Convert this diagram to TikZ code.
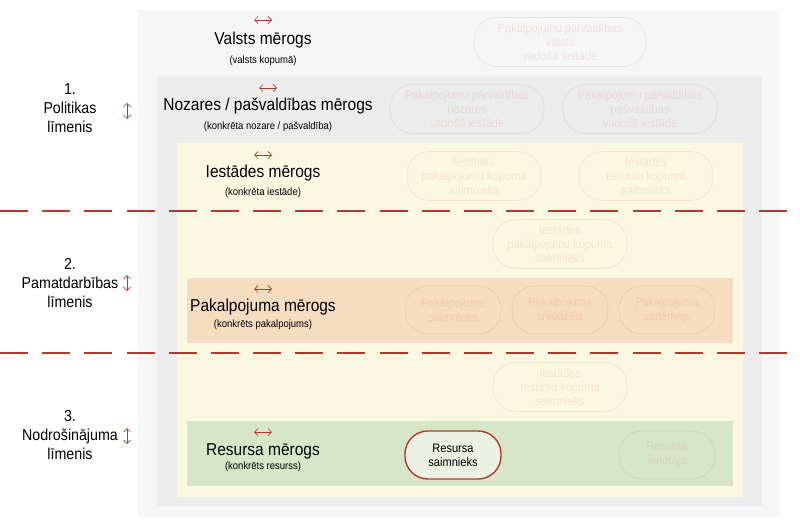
\documentclass[tikz,border=0pt]{standalone}
\usepackage{fontspec}
\setmainfont{Liberation Sans}[FakeStretch=0.9]
\usetikzlibrary{arrows.meta}
\definecolor{redline}{HTML}{B03A2E}
\definecolor{panelA}{HTML}{F6F6F6}
\definecolor{panelB}{HTML}{ECECEC}
\definecolor{panelC}{HTML}{FBF8E1}
\definecolor{bandP}{HTML}{F6DCC0}
\definecolor{bandR}{HTML}{D8E6C8}
\tikzset{
  title/.style={font=\fontsize{9.8}{11}\selectfont},
  sub/.style={font=\fontsize{6}{7}\selectfont},
  level/.style={align=center,font=\fontsize{9}{11}\selectfont},
  role/.style={draw=redline,rounded corners=13pt,minimum height=48*0.02cm,
    align=center,font=\fontsize{7}{8}\selectfont},
  ghost/.style={role,draw opacity=0.1,text opacity=0.1,text=redline},
  harrow/.style={{Straight Barb[length=2pt]}-{Straight Barb[length=2pt]},redline,thin},
}
\begin{document}
\begin{tikzpicture}[x=0.02cm,y=-0.02cm]
  \useasboundingbox (0,0) rectangle (800,527);
  % paneli
  \fill[panelA] (138,10) rectangle (780,517);
  \fill[panelB] (157,76) rectangle (762,506);
  \fill[panelC] (177,143) rectangle (743,497);
  \fill[bandP] (187,278) rectangle (733,343);
  \fill[bandR] (187,421) rectangle (733,486);
  % līmeņu robežas
  \draw[redline,thick,dash pattern=on 16pt off 8pt] (0,211) -- (812,211);
  \draw[redline,thick,dash pattern=on 16pt off 8pt] (0,353) -- (812,353);
  % līmeņi
  \node[level] (lvlA) at (70,108) {1.\\Politikas\\līmenis};
  \node[level] (lvlB) at (70,283) {2.\\Pamatdarbības\\līmenis};
  \node[level] (lvlC) at (70,435) {3.\\Nodrošinājuma\\līmenis};
  \foreach \y in {111,283,436}
    \draw[harrow] (127,\y-8) -- (127,\y+8);
  % mērogi
  \node[title] (valsts) at (263,40) {Valsts mērogs};
  \node[sub] at (263,61) {(valsts kopumā)};
  \node[title] (nozare) at (268,106) {Nozares / pašvaldības mērogs};
  \node[sub] at (268,127) {(konkrēta nozare / pašvaldība)};
  \node[title] (iestade) at (263,173) {Iestādes mērogs};
  \node[sub] at (263,193) {(konkrēta iestāde)};
  \node[title] (pakalp) at (263,307) {Pakalpojuma mērogs};
  \node[sub] at (263,325) {(konkrēts pakalpojums)};
  \node[title] (resurss) at (263,451) {Resursa mērogs};
  \node[sub] at (263,467) {(konkrēts resurss)};
  \foreach \x/\y in {263/20,268/88,263/155,263/289,263/432}
    \draw[harrow] (\x-9,\y) -- (\x+9,\y);
  % lomas
  \node[ghost,minimum width=172*0.02cm] (pvValsts) at (560,42) {Pakalpojumu pārvaldības\\valsts\\vadošā iestāde};
  \node[ghost,minimum width=154*0.02cm] (pvNozare) at (467,109) {Pakalpojumu pārvaldības\\nozares\\vadošā iestāde};
  \node[ghost,minimum width=154*0.02cm] (pvPasv) at (640,109) {Pakalpojumu pārvaldības\\pašvaldības\\vadošā iestāde};
  \node[ghost,minimum width=134*0.02cm] (iePak) at (474,176) {Iestādes\\pakalpojumu kopuma\\saimnieks};
  \node[ghost,minimum width=134*0.02cm] (ieRes) at (646,176) {Iestādes\\resursu kopuma\\saimnieks};
  \node[ghost,minimum width=134*0.02cm] (iePak2) at (560,244) {Iestādes\\pakalpojumu kopuma\\saimnieks};
  \node[ghost,minimum width=96*0.02cm] (pakSaim) at (453,310) {Pakalpojuma\\saimnieks};
  \node[ghost,minimum width=96*0.02cm] (pakSn) at (560,310) {Pakalpojuma\\sniedzējs};
  \node[ghost,minimum width=96*0.02cm] (pakSan) at (667,310) {Pakalpojuma\\saņēmējs};
  \node[ghost,minimum width=134*0.02cm] (ieRes2) at (560,387) {Iestādes\\resursu kopuma\\saimnieks};
  \node[role,thick,fill=bandR!50!white,minimum width=96*0.02cm] (resSaim) at (453,455) {Resursa\\saimnieks};
  \node[ghost,minimum width=96*0.02cm] (resLiet) at (667,455) {Resursa\\lietotājs};
\end{tikzpicture}
\end{document}
